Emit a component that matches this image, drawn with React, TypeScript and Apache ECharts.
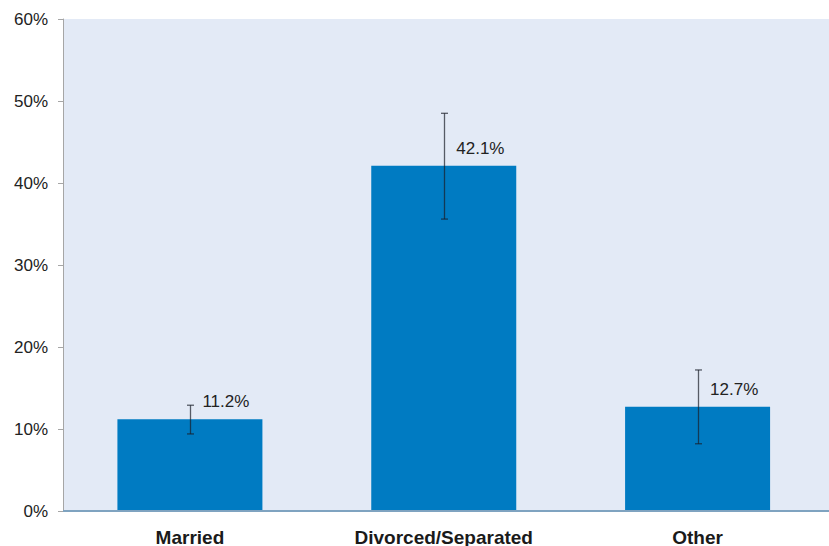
import React, { useEffect, useRef } from "react";
import * as echarts from "echarts";

const categories = ["Married", "Divorced/Separated", "Other"];
const values = [11.2, 42.1, 12.7];
const errLow = [9.4, 35.6, 8.2];
const errHigh = [12.9, 48.5, 17.2];
const yTicks = [0, 10, 20, 30, 40, 50, 60];

export default function App() {
  const ref = useRef<HTMLDivElement>(null);
  useEffect(() => {
    const chart = echarts.init(ref.current!, null, { renderer: "svg" });
    const font = "'Liberation Sans', Arial, sans-serif";
    chart.setOption({
      animation: false,
      grid: { left: 63, right: 4.5, top: 19, bottom: 35, containLabel: false, outerBoundsMode: "none" },
      graphic: [
        { type: "rect", z: -10, shape: { x: 63, y: 19, width: 766, height: 492 }, style: { fill: "#e3eaf6" }, silent: true },
        { type: "line", z: 10, shape: { x1: 63, y1: 511, x2: 829, y2: 511 }, style: { stroke: "#7fa3c0", lineWidth: 2 }, silent: true },
      ],
      xAxis: {
        type: "category",
        data: categories,
        axisLine: { show: false },
        axisTick: { show: false },
        axisLabel: { margin: 17, color: "#1a1a1a", fontSize: 19, fontWeight: "bold", fontFamily: font },
      },
      yAxis: {
        type: "value",
        min: 0,
        max: 60,
        interval: 10,
        splitLine: { show: false },
        axisLine: { show: true, lineStyle: { color: "#a6a6a6", width: 1 } },
        axisTick: { show: true, length: 5, lineStyle: { color: "#a6a6a6" } },
        axisLabel: {
          margin: 15,
          color: "#222",
          fontSize: 17,
          fontFamily: font,
          formatter: (v: number) => (yTicks.includes(v) ? v + "%" : ""),
        },
      },
      series: [
        {
          type: "bar",
          data: values,
          barWidth: 145,
          itemStyle: { color: "#007bc2" },
          label: {
            show: true,
            position: [85, -17.5],
            align: "left",
            verticalAlign: "middle",
            formatter: (p: any) => p.value.toFixed(1) + "%",
            color: "#222",
            fontSize: 17,
            fontFamily: font,
          },
          z: 2,
        },
        {
          type: "custom",
          z: 5,
          data: categories.map((_, i) => [i, errLow[i], errHigh[i]]),
          renderItem: (params: any, api: any) => {
            const x = api.value(0);
            const lo = api.coord([x, api.value(1)]);
            const hi = api.coord([x, api.value(2)]);
            const cx = Math.round(lo[0]) + 0.5;
            const w = 3.5;
            const style = { stroke: "rgba(25,30,40,0.7)", lineWidth: 1.3 };
            return {
              type: "group",
              children: [
                { type: "line", shape: { x1: cx, y1: hi[1], x2: cx, y2: lo[1] }, style },
                { type: "line", shape: { x1: cx - w, y1: hi[1], x2: cx + w, y2: hi[1] }, style },
                { type: "line", shape: { x1: cx - w, y1: lo[1], x2: cx + w, y2: lo[1] }, style },
              ],
            };
          },
        },
      ],
    });
    return () => chart.dispose();
  }, []);
  return <div ref={ref} style={{ width: 829, height: 546, position: "absolute", left: 0, top: 0 }} />;
}
